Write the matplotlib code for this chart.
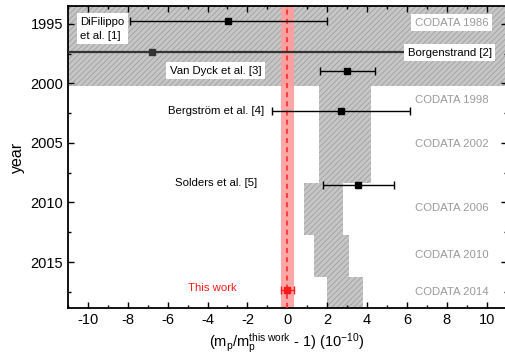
import matplotlib
matplotlib.use("Agg")
import matplotlib.pyplot as plt
from matplotlib.ticker import MultipleLocator

plt.rcParams['font.family'] = ['Liberation Sans', 'DejaVu Sans']
plt.rcParams['mathtext.fontset'] = 'custom'
plt.rcParams['mathtext.rm'] = 'Liberation Sans'
plt.rcParams['mathtext.it'] = 'Liberation Sans:italic'
plt.rcParams['axes.unicode_minus'] = False
plt.rcParams['hatch.color'] = '#a0a0a0'
plt.rcParams['hatch.linewidth'] = 0.6

# Measurements
meas_names = ["DiFilippo", "Borgenstrand", "Van Dyck", "Bergstrom", "Solders"]
meas_year = [1994.75, 1997.4, 1998.95, 2002.35, 2008.5]
meas_value = [-2.95, -6.8, 3.0, 2.7, 3.57]
meas_err = [4.95, 12.9, 1.38, 3.45, 1.8]

# This work
this_year = 2017.35
this_value = 0.0
this_err = 0.32

# CODATA bands: (year_start, year_end, x_low, x_high)
codata_y0 = [1993.0, 2000.25, 2008.35, 2012.77, 2016.23]
codata_y1 = [2000.25, 2008.35, 2012.77, 2016.23, 2019.5]
codata_lo = [-12.0, 1.6, 0.82, 1.32, 1.98]
codata_hi = [12.0, 4.18, 2.78, 3.1, 3.78]

codata_labels = ["CODATA 1986", "CODATA 1998", "CODATA 2002", "CODATA 2006", "CODATA 2010", "CODATA 2014"]
codata_label_y = [1994.92, 2001.37, 2005.05, 2010.5, 2014.4, 2017.5]

fig = plt.figure(figsize=(5.05, 3.56), dpi=100)
ax = fig.add_axes([68/505, 48/356, 438.5/505, 302/356])

for y0, y1, lo, hi in zip(codata_y0, codata_y1, codata_lo, codata_hi):
    ax.fill_between([lo, hi], y0, y1, facecolor='#c6c6c6', edgecolor='#a0a0a0',
                    hatch='//////', linewidth=0, zorder=1)

# red band for this work
ax.axvspan(this_value - this_err, this_value + this_err, color='#ff9c9c', alpha=0.9, lw=0, zorder=2)
ax.axvline(this_value, color='#ff2a2a', ls=(0, (3, 2.5)), lw=1.2, zorder=3)

for name, y, v, e in zip(meas_names, meas_year, meas_value, meas_err):
    col = '#333333' if name == "Borgenstrand" else 'black'
    lw = 1.6 if name == "Borgenstrand" else 1.0
    ax.errorbar(v, y, xerr=e, fmt='s', color=col, ms=4.5, capsize=3, elinewidth=lw,
                capthick=1.0, zorder=5)

ax.errorbar(this_value, this_year, xerr=this_err, fmt='s', color='#ff1a1a', ms=4.5,
            capsize=3, elinewidth=1.0, capthick=1.0, zorder=6)

box = dict(facecolor='white', edgecolor='none', pad=2.5)
fs = 8.2
ax.text(-10.4, 1995.42, "DiFilippo\net al. [1]", ha='left', va='center', fontsize=fs,
        bbox=box, linespacing=1.5, zorder=7)
ax.text(10.25, 1997.43, "Borgenstrand [2]", ha='right', va='center', fontsize=fs, bbox=box, zorder=7)
ax.text(-3.6, 1998.94, "Van Dyck et al. [3]", ha='center', va='center', fontsize=fs, bbox=box, zorder=7)
ax.text(-3.55, 2002.3, "Bergström et al. [4]", ha='center', va='center', fontsize=fs, zorder=7)
ax.text(-3.58, 2008.4, "Solders et al. [5]", ha='center', va='center', fontsize=fs, zorder=7)
ax.text(-3.75, 2017.2, "This work", ha='center', va='center', fontsize=fs, color='#ff1a1a', zorder=7)

for i, (lab, y) in enumerate(zip(codata_labels, codata_label_y)):
    ax.text(8.25, y, lab, ha='center', va='center', fontsize=fs, color='#9a9a9a',
            bbox=box if i == 0 else None, zorder=7)

ax.set_xlim(-11, 11)
ax.set_ylim(2018.86, 1993.5)
ax.xaxis.set_major_locator(MultipleLocator(2))
ax.xaxis.set_minor_locator(MultipleLocator(1))
ax.yaxis.set_major_locator(MultipleLocator(5))
ax.yaxis.set_minor_locator(MultipleLocator(2.5))
ax.tick_params(which='both', direction='in', top=True, right=True, labelsize=10.5, width=1.0)
ax.tick_params(which='major', length=4)
ax.tick_params(which='minor', length=2.5)
for sp in ax.spines.values():
    sp.set_linewidth(1.3)

ax.set_xlabel(r'(m$_\mathrm{p}$/m$_\mathrm{p}^\mathrm{this\ work}$ - 1) (10$^{-10}$)', fontsize=10.5, labelpad=3)
ax.set_ylabel('year', fontsize=11.5, labelpad=4)

fig.savefig('out.png', dpi=100)
